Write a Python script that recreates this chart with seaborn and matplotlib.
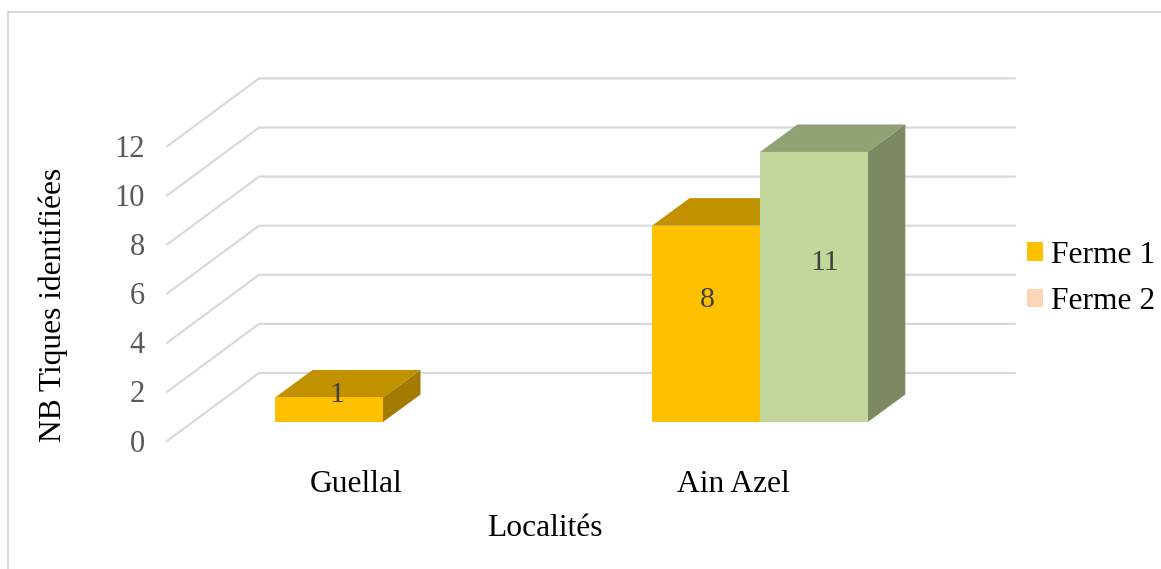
import numpy as np
import pandas as pd
import seaborn as sns
import matplotlib
matplotlib.use("Agg")
import matplotlib.pyplot as plt
from matplotlib.lines import Line2D
from matplotlib.patches import Polygon
from matplotlib.colors import to_rgb

# Chart data
localites = ["Guellal", "Ain Azel"]
ferme_1 = [1, 8]
ferme_2 = [np.nan, 11]
series_names = ["Ferme 1", "Ferme 2"]
y_ticks = [0, 2, 4, 6, 8, 10, 12]

# Styling
W, H = 1161, 569
PX_X = 377.0   # pixels per category step
PX_Y = 24.55   # pixels per tick count
ORIGIN_X, ORIGIN_Y = 383.0, 422.0   # pixel position of the first group's centre on the bar floor
series_colors = ["#FFC000", "#FBD5B5"]
point_color = "#C3D69B"   # colour override of the Ain Azel / Ferme 2 column
GRID = "#D9D9D9"
FS = 22.7

sns.set_style("white")
plt.rcParams["font.family"] = ["Liberation Serif", "DejaVu Serif"]

fig = plt.figure(figsize=(W / 100, H / 100), dpi=100)
ax = fig.add_axes([0, 0, 1, 1])

df = pd.DataFrame({
    "Localité": localites * 2,
    "Ferme": [series_names[0]] * 2 + [series_names[1]] * 2,
    "NB": ferme_1 + ferme_2,
})
sns.barplot(data=df, x="Localité", y="NB", hue="Ferme", hue_order=series_names,
            palette=series_colors, saturation=1, width=0.572, gap=0, dodge=True,
            errorbar=None, linewidth=0, ax=ax, zorder=3)

ax.set_xlim(-ORIGIN_X / PX_X, (W - ORIGIN_X) / PX_X)
ax.set_ylim(-(H - ORIGIN_Y) / PX_Y, ORIGIN_Y / PX_Y)
ax.set_axis_off()


def dx(px):
    return px / PX_X


def dy(px):
    return px / PX_Y


def shade(color, factor):
    return tuple(c * factor for c in to_rgb(color))


# Oblique box sides: offsets of the floor and walls in the projected chart
wall_left = dx(167 - ORIGIN_X)
wall_right = dx(1015 - ORIGIN_X)
floor_front = dy(ORIGIN_Y - 441)
wall_dx, wall_dy = dx(92), dy(68)

for t in y_ticks:
    y0 = floor_front + t
    ax.plot([wall_left, wall_left + wall_dx, wall_right],
            [y0, y0 + wall_dy, y0 + wall_dy],
            color=GRID, lw=1.6, zorder=1, solid_joinstyle="miter", clip_on=False)
    ax.text(wall_left - dx(22), y0 - dy(3), str(t), ha="right", va="center",
            fontsize=FS - 0.7, color="#595959")

# Column sides, derived from the bars seaborn drew
bar_dx, bar_dy = dx(37.5), dy(27.5)
bars = [p for p in ax.patches if np.isfinite(p.get_height()) and p.get_height() > 0]
label_shift = {1: (8, 13), 8: (1, 4), 11: (11, 4)}
for bar in bars:
    x0, w, h = bar.get_x(), bar.get_width(), bar.get_height()
    if h == ferme_2[1]:
        bar.set_facecolor(point_color)
    face = bar.get_facecolor()
    ax.add_patch(Polygon([(x0, h), (x0 + w, h), (x0 + w + bar_dx, h + bar_dy), (x0 + bar_dx, h + bar_dy)],
                         closed=True, fc=shade(face, 0.755), ec="none", zorder=bar.get_zorder() - 0.2 + x0 * 0.01))
    ax.add_patch(Polygon([(x0 + w, 0), (x0 + w + bar_dx, bar_dy), (x0 + w + bar_dx, h + bar_dy), (x0 + w, h)],
                         closed=True, fc=shade(face, 0.64), ec="none", zorder=bar.get_zorder() - 0.2 + x0 * 0.01))
    sx, sy = label_shift[int(h)]
    ax.text(x0 + w / 2 + dx(sx), h / 2 + bar_dy - dy(sy), f"{int(h)}",
            ha="center", va="center", fontsize=FS - 1.2, color="#404040", zorder=6)

# Category labels sit along the front edge of the floor
for i, name in enumerate(localites):
    ax.text(i - dx(26.5), dy(ORIGIN_Y - 484), name, ha="center", va="center",
            fontsize=FS, color="black")

ax.text(dx(545 - ORIGIN_X), dy(ORIGIN_Y - 529), "Localités", ha="center", va="center",
        fontsize=FS, color="black")
ax.text(dx(53 - ORIGIN_X), dy(ORIGIN_Y - 305), "NB Tiques identifiées", rotation=90,
        ha="center", va="center", fontsize=FS, color="black")

sns.move_legend(ax, loc="center left", bbox_to_anchor=(1027 / W, 1 - 278.5 / H), title=None,
                frameon=False, fontsize=FS, handlelength=0.52, handleheight=0.52,
                handletextpad=0.25, labelspacing=0.55, borderpad=0, borderaxespad=0,
                labelcolor="black")

# Chart frame, open towards the right and the bottom
frame = dict(color="#D9D9D9", lw=1.5, transform=fig.transFigure)
fig.add_artist(Line2D([8 / W, 8 / W], [0, 1 - 12 / H], **frame))
fig.add_artist(Line2D([8 / W, 1], [1 - 12 / H, 1 - 12 / H], **frame))

fig.savefig("out.png", dpi=100)
